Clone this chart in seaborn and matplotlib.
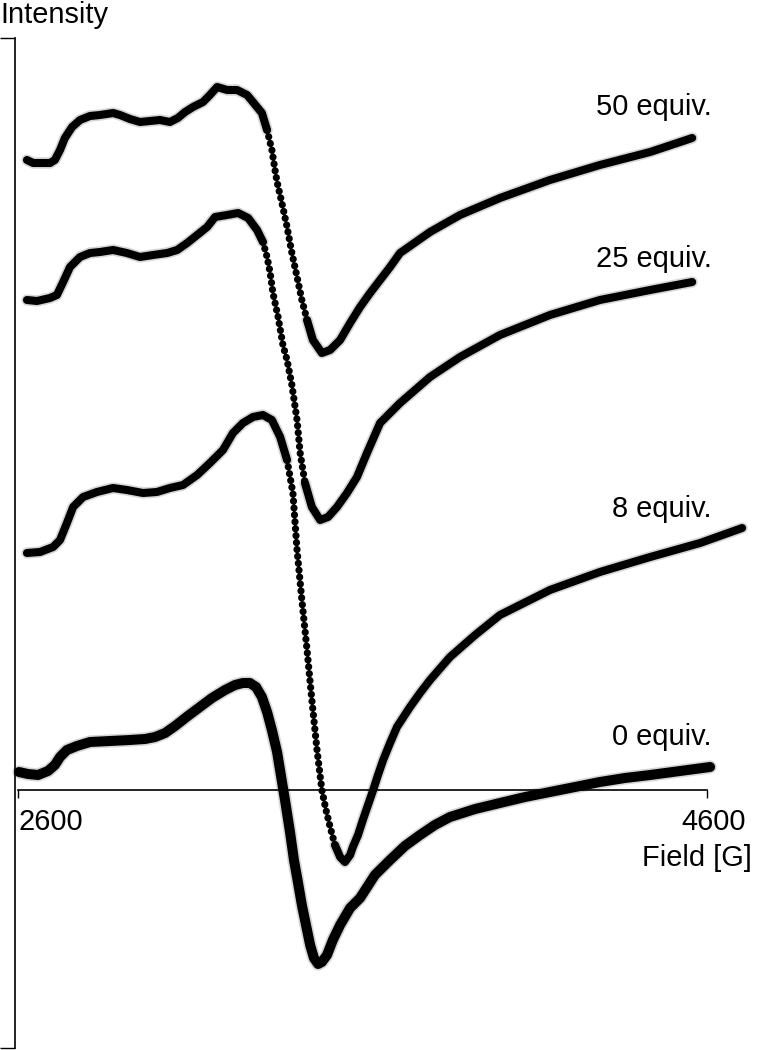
import numpy as np
import pandas as pd
import matplotlib
matplotlib.use("Agg")
import matplotlib.pyplot as plt
from matplotlib.transforms import ScaledTranslation
import seaborn as sns

# ---------------- data ----------------
labels = ["50 equiv.", "25 equiv.", "8 equiv.", "0 equiv."]

field_50 = [2626, 2644, 2693, 2707, 2722, 2736, 2757, 2780, 2809, 2838, 2876, 2896, 2925,
            2954, 2983, 3012, 3041, 3064, 3085, 3108, 3137, 3157, 3178, 3207, 3236, 3265,
            3282, 3308, 3323, 3337, 3346, 3352, 3366, 3381, 3395, 3410, 3424, 3439, 3456,
            3482, 3506, 3535, 3564, 3593, 3622, 3651, 3680, 3709, 3796, 3883, 3999, 4144,
            4289, 4435, 4557]
int_50 = [63.0, 62.7, 62.7, 63.0, 64.0, 65.2, 66.3, 67.0, 67.4, 67.5, 67.7, 67.5, 67.1,
          66.8, 66.9, 67.0, 66.8, 67.2, 67.8, 68.3, 68.8, 69.5, 70.3, 70.0, 70.0, 69.5,
          68.8, 67.7, 66.0, 64.0, 62.0, 60.8, 58.7, 56.3, 53.7, 51.3, 49.0, 47.0, 45.0,
          43.7, 44.0, 45.0, 46.7, 48.3, 49.7, 51.0, 52.3, 53.7, 55.8, 57.5, 59.2, 61.0,
          62.5, 63.8, 65.2]

field_25 = [2626, 2655, 2693, 2713, 2731, 2751, 2780, 2809, 2838, 2876, 2916, 2954, 2992,
            3033, 3062, 3091, 3120, 3149, 3172, 3207, 3239, 3268, 3294, 3311, 3323, 3332,
            3340, 3355, 3369, 3381, 3395, 3410, 3419, 3433, 3453, 3477, 3500, 3526, 3555,
            3584, 3613, 3651, 3709, 3796, 3883, 3999, 4144, 4289, 4435, 4557]
int_25 = [49.0, 48.9, 49.2, 49.5, 50.8, 52.3, 53.3, 53.7, 53.8, 54.0, 53.7, 53.3, 53.5,
          53.7, 54.0, 54.7, 55.5, 56.3, 57.3, 57.5, 57.7, 57.2, 56.0, 54.8, 53.3, 51.7,
          49.7, 47.3, 44.5, 43.0, 40.5, 37.0, 33.7, 30.7, 28.3, 27.0, 27.3, 28.3, 29.7,
          31.3, 33.7, 36.7, 38.7, 41.3, 43.3, 45.5, 47.5, 49.0, 50.0, 50.8]

field_8 = [2626, 2664, 2702, 2722, 2742, 2760, 2789, 2829, 2876, 2916, 2963, 3003, 3041,
           3079, 3120, 3157, 3195, 3224, 3253, 3282, 3311, 3337, 3361, 3381, 3398, 3410,
           3424, 3439, 3453, 3468, 3482, 3494, 3506, 3520, 3535, 3549, 3564, 3572, 3587,
           3601, 3616, 3631, 3645, 3660, 3680, 3700, 3738, 3767, 3796, 3854, 3927, 3999,
           4144, 4289, 4435, 4580, 4702]
int_8 = [23.7, 23.8, 24.3, 25.0, 26.7, 28.3, 29.3, 29.8, 30.2, 30.0, 29.7, 29.8, 30.2,
         30.5, 31.5, 32.7, 34.0, 35.7, 36.7, 37.3, 37.5, 37.0, 35.3, 33.0, 29.7, 24.0,
         19.0, 14.0, 9.0, 4.0, 0.0, -2.0, -3.7, -5.5, -6.7, -7.2, -6.5, -5.7, -4.5,
         -3.0, -1.5, 0.0, 1.5, 3.0, 4.7, 6.3, 8.3, 9.7, 11.0, 13.3, 15.5, 17.5,
         20.0, 21.8, 23.3, 24.7, 26.2]

field_0 = [2603, 2629, 2658, 2687, 2707, 2722, 2742, 2771, 2809, 2867, 2925, 2969, 2998,
           3027, 3056, 3093, 3128, 3163, 3201, 3230, 3253, 3273, 3291, 3308, 3323, 3337,
           3352, 3363, 3375, 3390, 3401, 3413, 3424, 3436, 3448, 3459, 3471, 3482, 3497,
           3514, 3535, 3564, 3593, 3636, 3680, 3723, 3767, 3810, 3854, 3927, 3999, 4072,
           4144, 4217, 4289, 4362, 4435, 4522, 4609]
int_0 = [1.8, 1.6, 1.5, 1.9, 2.5, 3.3, 4.0, 4.4, 4.8, 4.9, 5.0, 5.1, 5.3, 5.7, 6.4, 7.4,
         8.3, 9.2, 10.0, 10.5, 10.7, 10.7, 10.3, 9.3, 7.8, 6.0, 3.8, 1.5, -1.0, -4.3,
         -7.0, -9.3, -11.5, -13.5, -15.5, -16.8, -17.4, -17.2, -16.5, -15.0, -13.5,
         -11.8, -10.8, -8.5, -7.0, -5.6, -4.5, -3.5, -2.7, -1.9, -1.3, -0.7, -0.2, 0.3,
         0.8, 1.2, 1.5, 1.9, 2.3]

fields = [field_50, field_25, field_8, field_0]
intensities = [int_50, int_25, int_8, int_0]

xtick_values = [2600, 4600]
xtick_labels = ["2600", "4600"]
label_anchor_field = 4614
label_anchor_int = [67.5, 52.3, 27.3, 4.5]

# ---------------- figure ----------------
W, H = 761, 1050
sns.set_style("white")
plt.rcParams["font.family"] = ["Liberation Sans", "DejaVu Sans"]
plt.rcParams["text.color"] = "black"
fig = plt.figure(figsize=(W / 100, H / 100), dpi=100)
fs = 20.9

ax = fig.add_axes([18 / W, 1 - 1048 / H, (707 - 18) / W, (1048 - 38) / H])
ax.set_xlim(2600, 4600)
ax.set_ylim(-25.8, 75.2)
ax.patch.set_alpha(0)

# display scale (pixels per data unit) used to find steep falling segments
px_per_G = (707 - 18) / 2000
px_per_I = (1048 - 38) / 101.0


def draw_solid(seg, lw):
    sns.lineplot(data=seg, x="field", y="intensity", sort=False, estimator=None,
                 color="black", lw=lw + 2.4, alpha=0.16, ax=ax,
                 solid_capstyle="round", solid_joinstyle="round", clip_on=False)
    sns.lineplot(data=seg, x="field", y="intensity", sort=False, estimator=None,
                 color="black", lw=lw, ax=ax, solid_capstyle="round",
                 solid_joinstyle="round", clip_on=False)


def draw_dotted(seg):
    sns.lineplot(data=seg, x="field", y="intensity", sort=False, estimator=None,
                 color="black", lw=5.2, ax=ax, linestyle=(0, (0.01, 0.95)),
                 dash_capstyle="round", clip_on=False)


for k, (fx, iy) in enumerate(zip(fields, intensities)):
    df = pd.DataFrame({"field": fx, "intensity": iy})
    if k == 3:
        draw_solid(df, 7.2)
        continue
    x = np.asarray(fx, float)
    y = np.asarray(iy, float)
    d = np.diff(y) * px_per_I / (np.diff(x) * px_per_G)
    steep = d < -3.5
    # close single-segment gaps inside a steep run
    for i in range(1, len(steep) - 1):
        if not steep[i] and steep[i - 1] and steep[i + 1]:
            steep[i] = True
    n = len(steep)
    start = 0
    for i in range(1, n + 1):
        if i == n or steep[i] != steep[start]:
            seg = df.iloc[start:i + 1]
            if steep[start]:
                draw_dotted(seg)
            else:
                draw_solid(seg, 5.8)
            start = i

# axes styling
for s in ["top", "right"]:
    ax.spines[s].set_visible(False)
ax.spines["bottom"].set_position(("data", 0))
ax.spines["bottom"].set_linewidth(1.2)
ax.spines["left"].set_linewidth(1.2)
ax.spines["left"].set_position(("outward", 2))
ax.spines["bottom"].set_color("black")
ax.spines["left"].set_color("black")

ax.set_xticks(xtick_values)
ax.set_xticklabels(xtick_labels, fontsize=fs)
ax.tick_params(axis="x", bottom=True, direction="out", length=5.8, width=1.0, pad=7.0,
               color="black", labelcolor="black")
tl = ax.get_xticklabels()
tl[0].set_ha("left")
tl[1].set_transform(tl[1].get_transform() + ScaledTranslation(7 / 100, 0, fig.dpi_scale_trans))
ax.set_yticks([-25.8, 75.2])
ax.set_yticklabels([])
ax.tick_params(axis="y", left=True, direction="out", length=11.0, width=1.0, color="black")
ax.set_xlabel("")
ax.set_ylabel("")

for lab, yv in zip(labels, label_anchor_int):
    ax.text(label_anchor_field, yv, lab, ha="right", va="baseline", fontsize=fs,
            color="black", clip_on=False)

fig.text(0 / W, 1 - 23 / H, "Intensity", ha="left", va="baseline", fontsize=fs, color="black")
fig.text(752 / W, 1 - 866 / H, "Field [G]", ha="right", va="baseline", fontsize=fs, color="black")

fig.savefig("out.png", dpi=100)
